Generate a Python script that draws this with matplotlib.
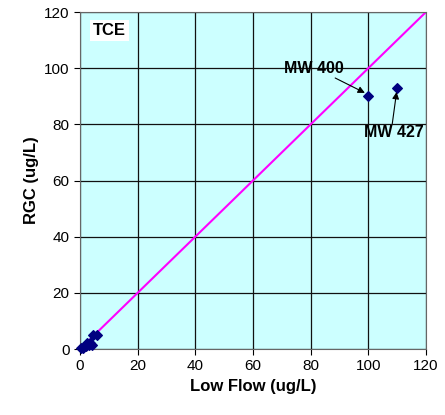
import matplotlib
matplotlib.use("Agg")
import matplotlib.pyplot as plt

plt.rcParams['font.family'] = ['Liberation Sans', 'DejaVu Sans']

low_flow = [0.5, 1.2, 2.0, 2.5, 3.0, 3.5, 4.0, 4.6, 5.8, 100, 110]
rgc = [0.2, 0.5, 1.0, 2.0, 1.5, 2.2, 1.3, 5.0, 5.0, 90, 93]
ticks = [0, 20, 40, 60, 80, 100, 120]

fig = plt.figure(figsize=(4.45, 4.15), dpi=100)
ax = fig.add_axes([80/445, 1 - 349/415, 346/445, 337/415])
ax.set_facecolor('#CCFFFF')

ax.plot([0, 120], [0, 120], color='#FF00FF', lw=1.5, zorder=2)
ax.scatter(low_flow, rgc, marker='D', s=24, color='#000080', zorder=3, clip_on=False)

ax.set_xlim(0, 120)
ax.set_ylim(0, 120)
ax.set_xticks(ticks)
ax.set_yticks(ticks)
ax.grid(True, color='#111111', lw=0.9, zorder=1)
ax.set_axisbelow(True)
ax.tick_params(labelsize=11, length=4, direction='out')
for s in ax.spines.values():
    s.set_color('#666666')

ax.set_xlabel('Low Flow (ug/L)', fontsize=12, fontweight='bold')
ax.set_ylabel('RGC (ug/L)', fontsize=12, fontweight='bold')

ax.text(4.5, 113.5, 'TCE', fontsize=12, fontweight='bold', va='center',
        bbox=dict(facecolor='white', edgecolor='none', pad=2))

# labels and arrows
ax.text(81, 100, 'MW 400', fontsize=11.5, fontweight='bold', ha='center', va='center')
ax.annotate('', xy=(98.8, 91.2), xytext=(88.5, 96.5),
            arrowprops=dict(arrowstyle='-|>', color='black', lw=0.8, shrinkA=0, shrinkB=0))
ax.text(109, 77, 'MW 427', fontsize=11.5, fontweight='bold', ha='center', va='center')
ax.annotate('', xy=(109.8, 91.5), xytext=(108.3, 80.2),
            arrowprops=dict(arrowstyle='-|>', color='black', lw=0.8, shrinkA=0, shrinkB=0))

fig.savefig('out.png', dpi=100)
